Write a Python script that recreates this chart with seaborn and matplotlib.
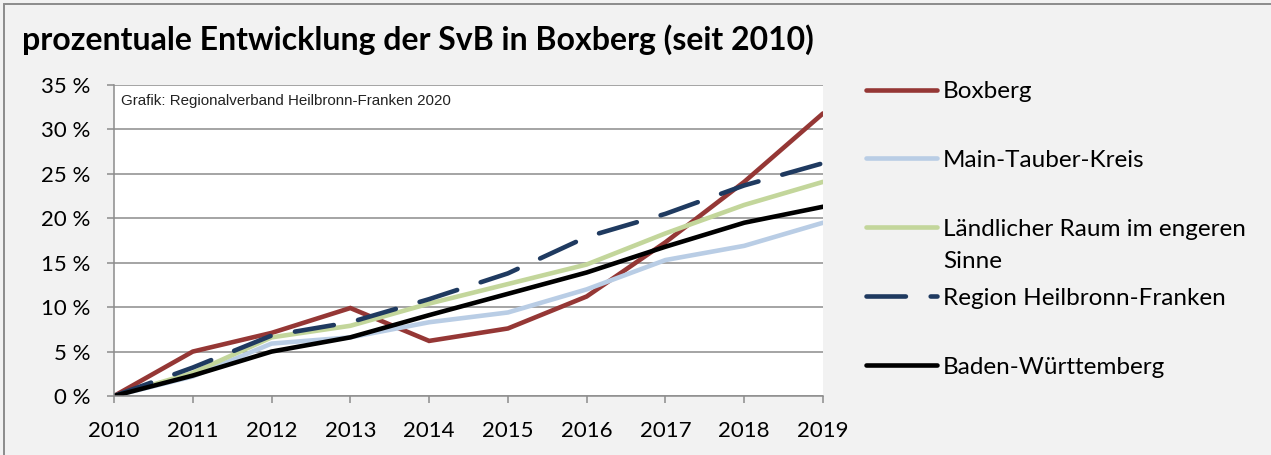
import matplotlib
matplotlib.use("Agg")
import matplotlib.pyplot as plt
import seaborn as sns
import pandas as pd
from matplotlib.patches import Rectangle
from matplotlib.ticker import FuncFormatter

years = [2010, 2011, 2012, 2013, 2014, 2015, 2016, 2017, 2018, 2019]
boxberg = [0.0, 5.0, 7.1, 9.9, 6.2, 7.6, 11.2, 17.3, 24.1, 31.8]
main_tauber = [0.0, 2.2, 5.9, 6.6, 8.3, 9.4, 12.0, 15.3, 16.9, 19.5]
laendlich = [0.0, 2.6, 6.6, 7.9, 10.4, 12.6, 14.8, 18.3, 21.5, 24.1]
region_hnf = [0.0, 3.2, 6.8, 8.3, 10.9, 13.8, 17.9, 20.5, 23.7, 26.2]
bawue = [0.0, 2.3, 5.0, 6.6, 9.1, 11.5, 13.9, 16.8, 19.5, 21.3]

series_names = ["Boxberg", "Main-Tauber-Kreis", "Ländlicher Raum im engeren",
                "Region Heilbronn-Franken", "Baden-Württemberg"]
series_values = [boxberg, main_tauber, laendlich, region_hnf, bawue]
colors = ["#953735", "#b9cde5", "#c3d69b", "#1f3a60", "#000000"]

title = "prozentuale Entwicklung der SvB in Boxberg (seit 2010)"
source = "Grafik: Regionalverband Heilbronn-Franken 2020"

sns.set_theme(style="white")
FONT = ["Lato", "DejaVu Sans"]
plt.rcParams["font.family"] = FONT
plt.rcParams["text.color"] = "black"

W, H = 1271, 455
fig = plt.figure(figsize=(W / 100, H / 100), dpi=100, facecolor="#f2f2f2")
fig.add_artist(Rectangle((4 / W, -0.1), 1.2, 1 - 4 / H + 0.1, transform=fig.transFigure,
                         facecolor="none", edgecolor="#8c8c8c", lw=1.4))

ax = fig.add_axes([114 / W, 1 - 396 / H, (823 - 114) / W, (396 - 85) / H])
ax.set_facecolor("white")

lw = 3.3
for name, vals, col in zip(series_names, series_values, colors):
    df = pd.DataFrame({"Jahr": years, "Wert": vals})
    sns.lineplot(data=df, x="Jahr", y="Wert", ax=ax, color=col, linewidth=lw,
                 label=name, legend=False)
    line = ax.lines[-1]
    line.set_solid_capstyle("round")
    line.set_solid_joinstyle("miter")
    if name == "Region Heilbronn-Franken":
        line.set_linestyle((0, (8.6, 5.4)))
        line.set_dash_capstyle("round")

ax.set_xlim(2010, 2019)
ax.set_ylim(0, 35)
ax.set_xticks(years)
ax.set_yticks(range(0, 36, 5))
ax.yaxis.set_major_formatter(FuncFormatter(lambda v, p: f"{int(v)} %"))
ax.set_xlabel("")
ax.set_ylabel("")
ax.grid(axis="y", color="#8c8c8c", lw=1.1)
ax.grid(axis="x", visible=False)
ax.set_axisbelow(True)
for s in ["top", "right"]:
    ax.spines[s].set_visible(False)
for s in ["left", "bottom"]:
    ax.spines[s].set_color("#8c8c8c")
    ax.spines[s].set_linewidth(1.1)
ax.tick_params(axis="both", which="major", direction="out", length=5, width=1.1,
               color="#8c8c8c", labelsize=16, labelcolor="black")
ax.tick_params(axis="y", pad=12, left=True)
ax.tick_params(axis="x", pad=13, bottom=True)

ax.text(121 / W, 1 - 101 / H, source, transform=fig.transFigure,
        fontsize=10.9, family=["Liberation Sans", "DejaVu Sans"],
        color="#222222", va="center", ha="left")

fig.text(22 / W, 1 - 40 / H, title, fontsize=23, fontweight="bold",
         va="center", ha="left", color="black")

LFS = 17.5
handles = ax.lines[:5]
leg = fig.legend(handles, series_names, loc="upper left",
                 bbox_to_anchor=(866 / W, 1 - 81 / H), frameon=False,
                 fontsize=LFS, handlelength=2.92, handletextpad=0.25,
                 labelspacing=1.97, borderpad=0, borderaxespad=0)
for t in leg.get_texts():
    t.set_color("black")

fig.text(943 / W, 1 - 261 / H, "Sinne", fontsize=LFS, va="center", ha="left",
         color="black")

fig.savefig("out.png", dpi=100, facecolor=fig.get_facecolor())
